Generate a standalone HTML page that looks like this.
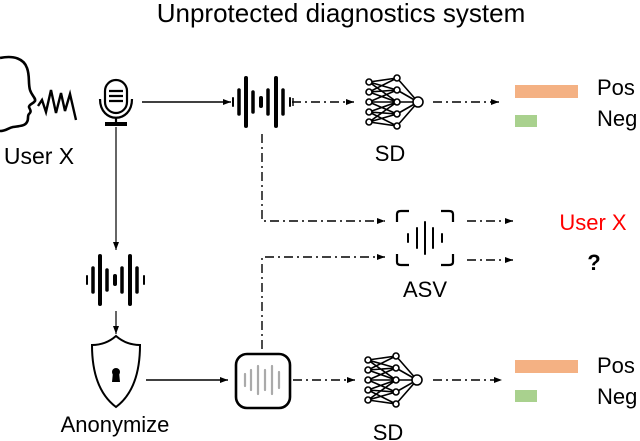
<!DOCTYPE html>
<html><head><meta charset="utf-8"><style>
body{margin:0;background:#fff;}
svg{display:block;font-family:"Liberation Sans",Arial,sans-serif;}
</style></head><body>
<svg width="640" height="441" viewBox="0 0 640 441" xmlns="http://www.w3.org/2000/svg">
<defs>
<marker id="ah" markerWidth="8" markerHeight="6" refX="8" refY="3" orient="auto" markerUnits="userSpaceOnUse">
<path d="M0,0 L8,3 L0,6 z" fill="#000"/></marker>
<g id="sd" fill="#fff" stroke="#000" stroke-width="1.6">
<g fill="none">
<path d="M-28,-20 L0,-24 M-28,-20 L0,-12 M-28,-20 L0,0 M-28,-10 L0,-24 M-28,-10 L0,-12 M-28,-10 L0,0 M-28,0 L0,-12 M-28,0 L0,0 M-28,0 L0,12 M-28,10 L0,0 M-28,10 L0,12 M-28,10 L0,24 M-28,20 L0,0 M-28,20 L0,12 M-28,20 L0,24"/>
<path d="M0,-24 L21,0 M0,-12 L21,0 M0,0 L21,0 M0,12 L21,0 M0,24 L21,0"/>
</g>
<circle cx="-28" cy="-20" r="3"/><circle cx="-28" cy="-10" r="3"/><circle cx="-28" cy="0" r="3"/><circle cx="-28" cy="10" r="3"/><circle cx="-28" cy="20" r="3"/>
<circle cx="0" cy="-24" r="3"/><circle cx="0" cy="-12" r="3"/><circle cx="0" cy="0" r="3"/><circle cx="0" cy="12" r="3"/><circle cx="0" cy="24" r="3"/>
<circle cx="21" cy="0" r="5"/>
</g>
<g id="wave" stroke="#000" stroke-linecap="round">
<line x1="-29" y1="-4" x2="-29" y2="4" stroke-width="2"/>
<line x1="-23" y1="-12" x2="-23" y2="12" stroke-width="3.5"/>
<line x1="-16" y1="-24" x2="-16" y2="24" stroke-width="4"/>
<line x1="-9" y1="-10" x2="-9" y2="10" stroke-width="3.5"/>
<line x1="-1" y1="-4" x2="-1" y2="4" stroke-width="4"/>
<line x1="6" y1="-12" x2="6" y2="12" stroke-width="3.5"/>
<line x1="14" y1="-24" x2="14" y2="24" stroke-width="4"/>
<line x1="21" y1="-12" x2="21" y2="12" stroke-width="3.5"/>
<line x1="28" y1="-4" x2="28" y2="4" stroke-width="2"/>
</g>
</defs>

<text x="341" y="22" font-size="26" text-anchor="middle">Unprotected diagnostics system</text>

<!-- head -->
<path d="M0,58 C14,55 24,59 27,68 C30,76 28,83 30,90 C32,96 36,98 35,101 C33,104 29,104 29,107 C30,110 32,111 29,114 C27,116 29,119 27,122 C25,126 20,126 13,127 C8,128 6,131 0,131" fill="none" stroke="#000" stroke-width="2.6"/>
<path d="M38,106 L42,100 L46,112 L51,90 L56,113 L61,93 L65,111 L70,94 L76,120" fill="none" stroke="#000" stroke-width="2.4"/>
<text x="39" y="164" font-size="23" text-anchor="middle">User X</text>

<!-- mic -->
<g fill="none" stroke="#000" stroke-width="2.2">
<rect x="105" y="80" width="22" height="33" rx="11"/>
<path d="M109,91 H123 M109,96 H123 M109,101 H123" />
<path d="M100,99 C100,124 132,124 132,99"/>
<path d="M116,118 V123"/>
</g>
<rect x="105" y="122" width="22" height="4" fill="#000"/>

<!-- top arrow -->
<line x1="142" y1="102" x2="231" y2="102" stroke="#000" stroke-width="1.4" marker-end="url(#ah)"/>
<use href="#wave" x="262" y="102"/>
<line x1="292" y1="102" x2="354" y2="102" stroke="#000" stroke-width="1.4" stroke-dasharray="9,4,2,4" marker-end="url(#ah)"/>
<line x1="293" y1="98" x2="293" y2="106" stroke="#000" stroke-width="1.4"/>
<use href="#sd" x="397" y="102"/>
<text x="390" y="161" font-size="22" text-anchor="middle">SD</text>
<line x1="433" y1="102" x2="499" y2="102" stroke="#000" stroke-width="1.4" stroke-dasharray="9,4,2,4" marker-end="url(#ah)"/>
<rect x="515" y="85" width="63" height="13" fill="#f4b183"/>
<rect x="515" y="115" width="22" height="12" fill="#a9d18e"/>
<text x="597" y="95" font-size="22">Pos</text>
<text x="597" y="126" font-size="22">Neg</text>

<!-- path to ASV top -->
<polyline points="262,134 262,221 385,221" fill="none" stroke="#000" stroke-width="1.4" stroke-dasharray="9,4,2,4" marker-end="url(#ah)"/>
<!-- ASV -->
<g fill="none" stroke="#000" stroke-width="2.2">
<path d="M397,222 V214 Q397,211 401,211 H409"/>
<path d="M441,211 H449 Q453,211 453,214 V222"/>
<path d="M397,254 V262 Q397,265 401,265 H409"/>
<path d="M441,265 H449 Q453,265 453,262 V254"/>
<g stroke-linecap="round" stroke-width="2">
<line x1="408" y1="234" x2="408" y2="242"/>
<line x1="417" y1="228" x2="417" y2="248"/>
<line x1="425" y1="222" x2="425" y2="254"/>
<line x1="433" y1="228" x2="433" y2="248"/>
<line x1="442" y1="234" x2="442" y2="242"/>
</g></g>
<text x="425" y="297" font-size="22" text-anchor="middle">ASV</text>
<line x1="467" y1="221" x2="513" y2="221" stroke="#000" stroke-width="1.4" stroke-dasharray="9,4,2,4" marker-end="url(#ah)"/>
<line x1="467" y1="260" x2="513" y2="260" stroke="#000" stroke-width="1.4" stroke-dasharray="9,4,2,4" marker-end="url(#ah)"/>
<text x="593" y="230" font-size="22" fill="#ff0000" text-anchor="middle">User X</text>
<text x="594" y="270" font-size="22" font-weight="bold" text-anchor="middle">?</text>

<!-- left column -->
<line x1="116" y1="127" x2="116" y2="250" stroke="#000" stroke-width="1.2" marker-end="url(#ah)"/>
<use href="#wave" x="116" y="280"/>
<line x1="116" y1="311" x2="116" y2="334" stroke="#000" stroke-width="1.2" marker-end="url(#ah)"/>
<path d="M116,336 C108,343 100,345 92,345 C92,375 100,395 116,407 C132,395 140,375 140,345 C132,345 124,343 116,336 Z" fill="none" stroke="#000" stroke-width="2"/>
<circle cx="116" cy="372" r="4" fill="#000"/>
<path d="M113,372 L112,382 H120 L119,372 Z" fill="#000"/>
<text x="115" y="432" font-size="22" text-anchor="middle">Anonymize</text>
<line x1="146" y1="380" x2="228" y2="380" stroke="#000" stroke-width="1.4" marker-end="url(#ah)"/>
<rect x="236" y="354" width="54" height="54" rx="11" fill="none" stroke="#000" stroke-width="2.6"/>
<g stroke="#aaa" stroke-width="2.2" stroke-linecap="round">
<line x1="245" y1="374" x2="245" y2="386"/>
<line x1="251" y1="370" x2="251" y2="390"/>
<line x1="258" y1="366" x2="258" y2="394"/>
<line x1="265" y1="370" x2="265" y2="390"/>
<line x1="272" y1="366" x2="272" y2="394"/>
<line x1="279" y1="372" x2="279" y2="388"/>
</g>
<polyline points="262,349 262,257 385,257" fill="none" stroke="#000" stroke-width="1.4" stroke-dasharray="9,4,2,4" marker-end="url(#ah)"/>
<line x1="293" y1="380" x2="355" y2="380" stroke="#000" stroke-width="1.4" stroke-dasharray="9,4,2,4" marker-end="url(#ah)"/>
<use href="#sd" x="396" y="380"/>
<text x="388" y="440" font-size="22" text-anchor="middle">SD</text>
<line x1="433" y1="380" x2="502" y2="380" stroke="#000" stroke-width="1.4" stroke-dasharray="9,4,2,4" marker-end="url(#ah)"/>
<rect x="515" y="360" width="63" height="13" fill="#f4b183"/>
<rect x="515" y="390" width="22" height="12" fill="#a9d18e"/>
<text x="597" y="373" font-size="22">Pos</text>
<text x="597" y="404" font-size="22">Neg</text>
</svg>
</body></html>
